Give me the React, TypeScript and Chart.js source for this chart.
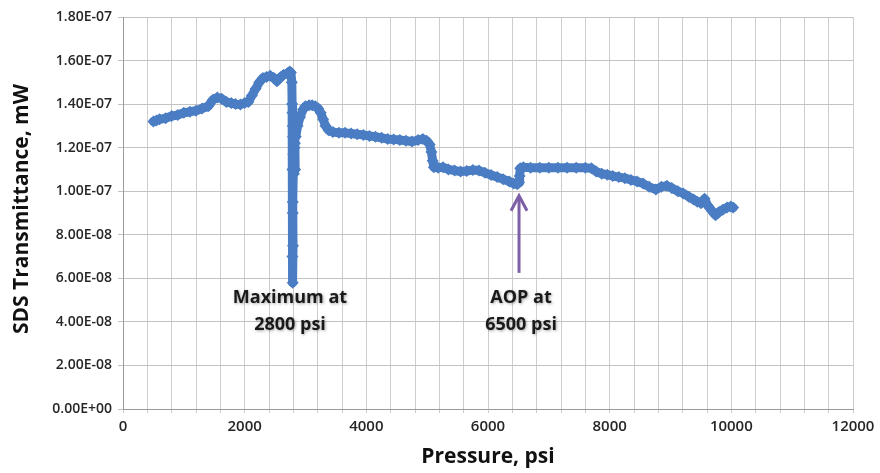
import React, { useEffect, useRef } from 'react';
import { Chart, registerables } from 'chart.js';

Chart.register(...registerables);

// ---- Data ----
const pressurePsi: number[] = [
  500, 550, 600, 700, 800, 900, 1000, 1100, 1200, 1300, 1400, 1480, 1550, 1620, 1700, 1780, 1850, 1930, 2000, 2060,
  2120, 2180, 2240, 2300, 2360, 2420, 2480, 2530, 2580, 2640, 2700, 2740, 2760, 2775, 2780, 2785, 2790, 2785, 2790, 2785,
  2790, 2795, 2790, 2800, 2795, 2810, 2820, 2810, 2800, 2815, 2825, 2830, 2820, 2840, 2870, 2910, 2960, 3000, 3060, 3110,
  3160, 3210, 3250, 3290, 3330, 3380, 3450, 3550, 3650, 3750, 3850, 3950, 4050, 4150, 4250, 4350, 4450, 4550, 4650, 4750,
  4850, 4930, 4990, 5040, 5070, 5090, 5110, 5180, 5260, 5350, 5450, 5550, 5650, 5750, 5850, 5950, 6050, 6150, 6250, 6350,
  6420, 6480, 6510, 6520, 6530, 6580, 6700, 6850, 7000, 7150, 7300, 7450, 7600, 7700, 7780, 7870, 7960, 8050, 8150, 8250,
  8350, 8450, 8550, 8650, 8760, 8850, 8940, 9020, 9120, 9210, 9300, 9380, 9440, 9500, 9560, 9610, 9680, 9740, 9800, 9860,
  9930, 9990, 10030,
];

const transmittanceMw: number[] = [
  1.32e-7, 1.325e-7, 1.33e-7, 1.335e-7, 1.345e-7, 1.35e-7, 1.36e-7, 1.365e-7, 1.37e-7, 1.38e-7, 1.39e-7, 1.42e-7, 1.43e-7, 1.425e-7, 1.41e-7, 1.405e-7, 1.4e-7, 1.398e-7, 1.405e-7, 1.41e-7,
  1.44e-7, 1.47e-7, 1.5e-7, 1.52e-7, 1.525e-7, 1.53e-7, 1.52e-7, 1.505e-7, 1.52e-7, 1.535e-7, 1.54e-7, 1.55e-7, 1.545e-7, 1.5e-7, 1.4e-7, 1.36e-7, 1.3e-7, 1.1e-7, 0.9e-7, 0.7e-7,
  0.58e-7, 0.75e-7, 0.95e-7, 1.1e-7, 1.25e-7, 1.33e-7, 1.2e-7, 1.08e-7, 1.17e-7, 1.3e-7, 1.22e-7, 1.1e-7, 1.28e-7, 1.25e-7, 1.3e-7, 1.34e-7, 1.375e-7, 1.39e-7, 1.395e-7, 1.395e-7,
  1.39e-7, 1.38e-7, 1.36e-7, 1.33e-7, 1.3e-7, 1.28e-7, 1.272e-7, 1.268e-7, 1.268e-7, 1.265e-7, 1.262e-7, 1.258e-7, 1.254e-7, 1.25e-7, 1.245e-7, 1.24e-7, 1.238e-7, 1.235e-7, 1.232e-7, 1.228e-7,
  1.235e-7, 1.24e-7, 1.232e-7, 1.215e-7, 1.18e-7, 1.14e-7, 1.11e-7, 1.108e-7, 1.11e-7, 1.1e-7, 1.095e-7, 1.09e-7, 1.093e-7, 1.097e-7, 1.095e-7, 1.085e-7, 1.075e-7, 1.065e-7, 1.055e-7, 1.045e-7,
  1.035e-7, 1.032e-7, 1.04e-7, 1.07e-7, 1.105e-7, 1.11e-7, 1.108e-7, 1.108e-7, 1.108e-7, 1.108e-7, 1.108e-7, 1.108e-7, 1.108e-7, 1.105e-7, 1.09e-7, 1.08e-7, 1.076e-7, 1.07e-7, 1.065e-7, 1.06e-7,
  1.052e-7, 1.045e-7, 1.035e-7, 1.02e-7, 1.008e-7, 1.02e-7, 1.025e-7, 1.015e-7, 1.0e-7, 0.99e-7, 0.975e-7, 0.962e-7, 0.952e-7, 0.945e-7, 0.965e-7, 0.935e-7, 0.91e-7, 0.89e-7, 0.905e-7, 0.915e-7,
  0.925e-7, 0.93e-7, 0.925e-7,
];

// Axis ranges / ticks
const xMin = 0;
const xMax = 12000;
const xGridStep = 400;
const xLabelStep = 2000;
const yMin = 0;
const yMax = 1.8e-7;
const yStep = 2e-8;

// Titles and annotations
const xTitle = 'Pressure, psi';
const yTitle = 'SDS Transmittance, mW';
const maxLabelLines = ['Maximum at', '2800 psi'];
const maxLabelPsi = 2745;
const aopLabelLines = ['AOP at', '6500 psi'];
const aopLabelPsi = 6543;
const labelLineValues = [5.1e-8, 3.86e-8];
const arrowPsi = 6510;
const arrowTailValue = 6.25e-8;
const arrowHeadValue = 9.84e-8;

const seriesColor = '#4a7dc3';
const arrowColor = '#7d5fa8';

const fmtSci = (v: number) =>
  v.toExponential(2).toUpperCase().replace(/E([+-])(\d)$/, 'E$10$2');

const overlayPlugin = {
  id: 'overlay',
  afterDraw(chart: any) {
    const { ctx, scales } = chart;
    const x = scales.x;
    const y = scales.y;
    ctx.save();

    // Arrow
    const ax = x.getPixelForValue(arrowPsi);
    const yTail = y.getPixelForValue(arrowTailValue);
    const yHead = y.getPixelForValue(arrowHeadValue);
    ctx.strokeStyle = arrowColor;
    ctx.lineWidth = 3;
    ctx.lineCap = 'butt';
    ctx.lineJoin = 'miter';
    ctx.beginPath();
    ctx.moveTo(ax, yTail);
    ctx.lineTo(ax, yHead + 2);
    ctx.stroke();
    ctx.beginPath();
    ctx.moveTo(ax - 8, yHead + 16);
    ctx.lineTo(ax, yHead + 1);
    ctx.lineTo(ax + 8, yHead + 16);
    ctx.stroke();

    // Annotation text
    ctx.fillStyle = '#1a1a1a';
    ctx.font = 'bold 18px "Open Sans", sans-serif';
    ctx.textAlign = 'center';
    ctx.textBaseline = 'middle';
    ctx.shadowColor = 'rgba(0,0,0,0.35)';
    ctx.shadowBlur = 3;
    ctx.shadowOffsetX = 1;
    ctx.shadowOffsetY = 1;
    maxLabelLines.forEach((t, i) => {
      ctx.fillText(t, x.getPixelForValue(maxLabelPsi), y.getPixelForValue(labelLineValues[i]));
    });
    aopLabelLines.forEach((t, i) => {
      ctx.fillText(t, x.getPixelForValue(aopLabelPsi), y.getPixelForValue(labelLineValues[i]));
    });
    ctx.shadowColor = 'transparent';
    ctx.shadowBlur = 0;
    ctx.shadowOffsetX = 0;
    ctx.shadowOffsetY = 0;

    // Axis titles
    ctx.fillStyle = '#111';
    ctx.font = 'bold 21px "Open Sans", sans-serif';
    ctx.fillText(xTitle, (x.left + x.right) / 2, 457);
    ctx.translate(22, (y.top + y.bottom) / 2 - 4);
    ctx.rotate(-Math.PI / 2);
    ctx.fillText(yTitle, 0, 0);
    ctx.restore();
  },
};

export default function App() {
  const canvasRef = useRef<HTMLCanvasElement | null>(null);

  useEffect(() => {
    if (!canvasRef.current) return;
    const points = pressurePsi.map((p, i) => ({ x: p, y: transmittanceMw[i] }));
    const chart = new Chart(canvasRef.current, {
      type: 'scatter',
      data: {
        datasets: [
          {
            label: 'SDS Transmittance',
            data: points,
            showLine: true,
            borderColor: seriesColor,
            borderWidth: 9,
            borderJoinStyle: 'round',
            borderCapStyle: 'round',
            backgroundColor: seriesColor,
            pointStyle: 'rectRot',
            pointRadius: 6,
            pointBorderWidth: 0,
            pointBackgroundColor: seriesColor,
          } as any,
        ],
      },
      options: {
        animation: false,
        responsive: true,
        maintainAspectRatio: false,
        layout: { padding: { top: 17, right: 27, bottom: 0, left: 0 } },
        plugins: {
          legend: { display: false },
          tooltip: { enabled: false },
        },
        scales: {
          x: {
            type: 'linear',
            min: xMin,
            max: xMax,
            afterFit: (s: any) => {
              s.height = 64;
            },
            border: { color: '#9a9a9a', width: 1 },
            grid: { color: '#cdcdcd', lineWidth: 1, tickLength: 4, drawTicks: true },
            ticks: {
              stepSize: xGridStep,
              autoSkip: false,
              maxRotation: 0,
              maxTicksLimit: 1000,
              padding: 5,
              color: '#262626',
              font: { family: '"Open Sans", sans-serif', size: 15, weight: '600' },
              callback: (v: any) => (Number(v) % xLabelStep === 0 ? String(v) : ''),
            },
          },
          y: {
            type: 'linear',
            min: yMin,
            max: yMax,
            afterFit: (s: any) => {
              s.width = 123;
            },
            border: { color: '#9a9a9a', width: 1 },
            grid: { color: '#c3c3c3', lineWidth: 1, tickLength: 5 },
            ticks: {
              stepSize: yStep,
              padding: 6,
              color: '#262626',
              font: { family: '"Open Sans", sans-serif', size: 14, weight: '600' },
              callback: (v: any) => fmtSci(Number(v)),
            },
          },
        },
      },
      plugins: [overlayPlugin],
    });
    return () => chart.destroy();
  }, []);

  return (
    <div style={{ position: 'fixed', left: 0, top: 0, width: 880, height: 473, background: '#fff' }}>
      <canvas ref={canvasRef} />
    </div>
  );
}
